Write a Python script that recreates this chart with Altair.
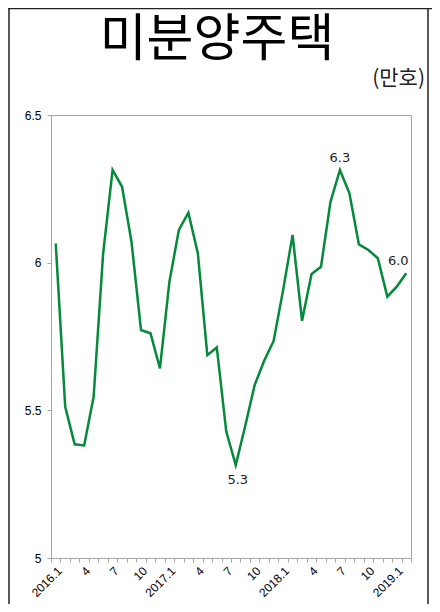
import altair as alt
import pandas as pd

# categories: monthly periods 2016.1 .. 2019.2
periods = []
for yr in [2016, 2017, 2018, 2019]:
    for mo in range(1, 13):
        periods.append(f"{yr}.{mo}")
periods = periods[:38]

# unsold houses (10,000 units)
values = [6.065, 5.512, 5.385, 5.381, 5.546, 6.03, 6.314, 6.257, 6.07, 5.772,
          5.761, 5.642, 5.936, 6.111, 6.169, 6.032, 5.687, 5.713, 5.428, 5.315,
          5.447, 5.586, 5.668, 5.735, 5.907, 6.094, 5.803, 5.962, 5.986, 6.206,
          6.314, 6.235, 6.062, 6.043, 6.015, 5.885, 5.919, 5.964]

y_ticks = [5, 5.5, 6, 6.5]
shown_months = ["4", "7", "10"]
label_above_mid = ["2018.7"]
label_above_left = ["2019.2"]
label_below = ["2017.8"]

title_text = "미분양주택"
unit_text = "(만호)"

df = pd.DataFrame({"period": periods, "value": values})
one = pd.DataFrame({"k": [0]})

GRAY = "#a6a6a6"
GREEN = "#05893b"
AXFONT = "Liberation Sans"

label_expr = (
    "split(datum.value, '.')[1] == '1' ? datum.value : "
    "(indexof(" + str(shown_months) + ", split(datum.value, '.')[1]) >= 0 ? "
    "split(datum.value, '.')[1] : '')"
)

x_enc = alt.X(
    "period:O",
    sort=periods,
    bandPosition=0.5,
    scale=alt.Scale(type="band", paddingInner=0, paddingOuter=0),
    axis=alt.Axis(
        title=None, labelAngle=-45, labelExpr=label_expr, labelFont=AXFONT,
        labelFontSize=12, labelColor="#000", tickSize=4, tickColor=GRAY,
        domainColor=GRAY, tickBand="extent", labelPadding=3, labelOverlap=False,
        labelAlign="right", labelBaseline="top",
    ),
)
y_enc = alt.Y(
    "value:Q",
    scale=alt.Scale(domain=[5, 6.5], nice=False, zero=False),
    axis=alt.Axis(
        title=None, values=y_ticks, format="~g", grid=False, tickSize=4,
        tickColor=GRAY, domainColor=GRAY, labelFont=AXFONT, labelFontSize=12,
        labelColor="#000", labelPadding=6,
    ),
)

base = alt.Chart(df).encode(x=x_enc, y=y_enc)
line = base.mark_line(color=GREEN, strokeWidth=2.5)

lab_style = dict(font="DejaVu Sans", fontSize=13, color="#222", baseline="middle", align="center")
ann1 = base.transform_filter(alt.FieldOneOfPredicate(field="period", oneOf=label_above_mid)).mark_text(dy=-12, **lab_style).encode(text=alt.Text("value:Q", format=".1f"))
ann2 = base.transform_filter(alt.FieldOneOfPredicate(field="period", oneOf=label_above_left)).mark_text(dy=-12, dx=-8, **lab_style).encode(text=alt.Text("value:Q", format=".1f"))
ann3 = base.transform_filter(alt.FieldOneOfPredicate(field="period", oneOf=label_below)).mark_text(dy=15, dx=2, **lab_style).encode(text=alt.Text("value:Q", format=".1f"))

frame_l = alt.Chart(one).mark_rule(color="#222", strokeWidth=1.5).encode(x=alt.value(-42), y=alt.value(-107), y2=alt.value(489))
frame_r = alt.Chart(one).mark_rule(color="#222", strokeWidth=1.5).encode(x=alt.value(377), y=alt.value(-107), y2=alt.value(489))
frame_t = alt.Chart(one).mark_rule(color="#222", strokeWidth=1.5).encode(y=alt.value(-106.5), x=alt.value(-43), x2=alt.value(381))

title = alt.Chart(one).mark_text(text=title_text, font="Noto Sans CJK KR", fontSize=51,
                                 align="center", baseline="middle", color="#000").encode(
    x=alt.value(166), y=alt.value(-74))
unit = alt.Chart(one).mark_text(text=unit_text, font="Noto Sans CJK KR", fontSize=21,
                                align="right", baseline="middle", color="#222").encode(
    x=alt.value(374), y=alt.value(-36))

chart = alt.layer(line, ann1, ann2, ann3, frame_l, frame_r, frame_t, title, unit).properties(
    width=360, height=443,
    autosize=alt.AutoSizeParams(type="none"),
    padding={"left": 43, "top": 107, "right": 21, "bottom": 46},
).configure_view(stroke=GRAY, strokeWidth=1)

chart.save("out.html", embed_options={"renderer": "svg", "actions": False})
